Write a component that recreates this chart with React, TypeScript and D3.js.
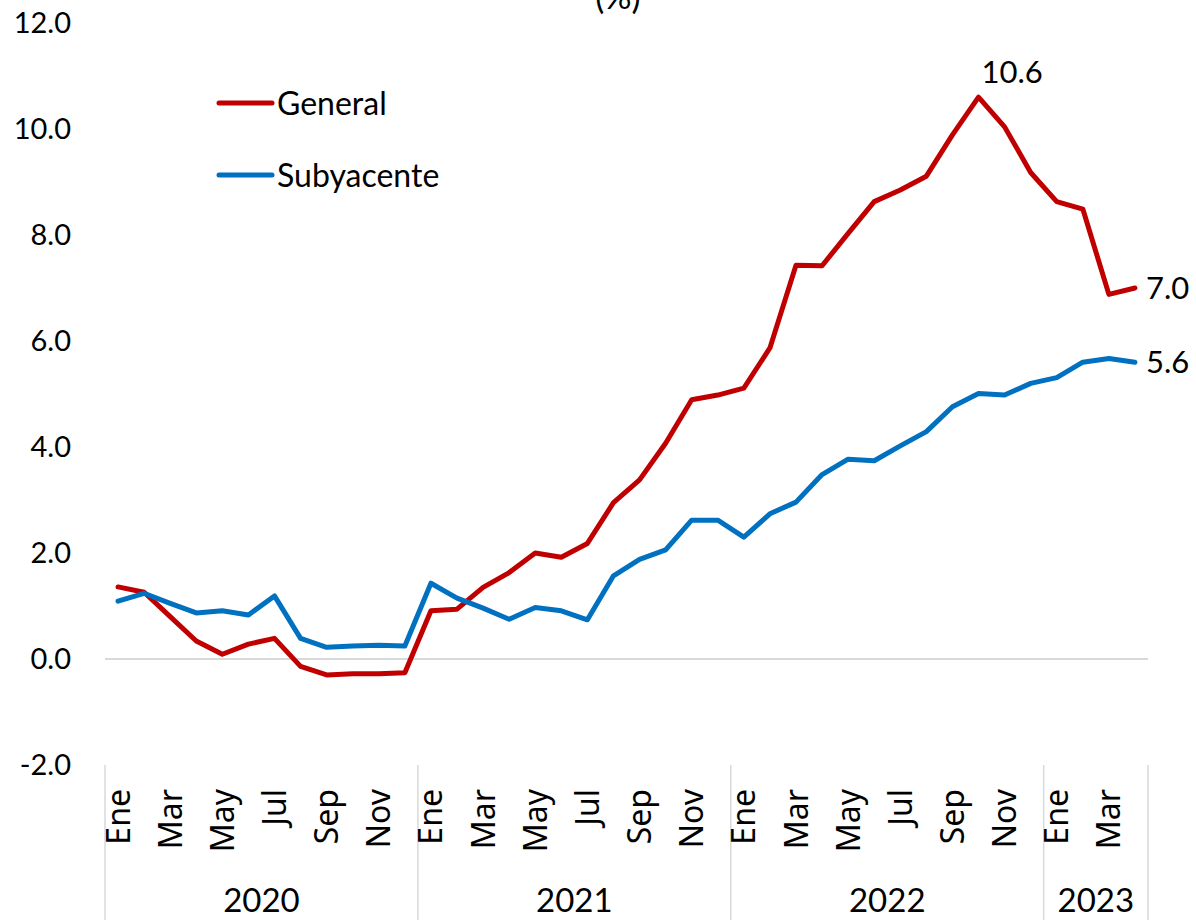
import React, { useRef, useEffect } from "react";
import * as d3 from "d3";

// Inflación anual, ene-2020 a abr-2023
const years = ["2020", "2021", "2022", "2023"];
const monthNames = ["Ene", "Feb", "Mar", "Abr", "May", "Jun", "Jul", "Ago", "Sep", "Oct", "Nov", "Dic"];
const monthsPerYear = [12, 12, 12, 4];

const general = [
  1.36, 1.26, 0.8, 0.34, 0.09, 0.28, 0.39, -0.14, -0.3, -0.28, -0.28, -0.26,
  0.91, 0.94, 1.35, 1.63, 2.0, 1.92, 2.18, 2.95, 3.38, 4.07, 4.89, 4.98,
  5.11, 5.87, 7.43, 7.42, 8.03, 8.63, 8.85, 9.11, 9.89, 10.6, 10.04, 9.18,
  8.63, 8.49, 6.88, 7.0,
];
const subyacente = [
  1.09, 1.24, 1.05, 0.87, 0.91, 0.83, 1.19, 0.39, 0.22, 0.245, 0.26, 0.245,
  1.43, 1.15, 0.96, 0.75, 0.97, 0.91, 0.74, 1.57, 1.88, 2.06, 2.62, 2.62,
  2.3, 2.74, 2.96, 3.48, 3.77, 3.74, 4.02, 4.29, 4.76, 5.01, 4.98, 5.2,
  5.31, 5.6, 5.67, 5.6,
];
const yTicks = [-2, 0, 2, 4, 6, 8, 10, 12];

const series = [
  { name: "General", values: general, color: "#C00000" },
  { name: "Subyacente", values: subyacente, color: "#0070C0" },
];

const numFont = "Lato, 'Open Sans', sans-serif";
const catFont = "'Noto Sans', 'Open Sans', sans-serif";
const fmt = (v: number) => v.toFixed(1); // plain hyphen for negatives

const App = () => {
  const svgRef = useRef<SVGSVGElement>(null);

  useEffect(() => {
    const svg = d3.select(svgRef.current);
    svg.selectAll("*").remove();

    const height = 920;
    const left = 105;
    const right = 1148;
    const top = 23;
    const bottom = 765;

    // build month labels from year/month lists
    const labels: string[] = [];
    monthsPerYear.forEach((n) => {
      for (let m = 0; m < n; m++) labels.push(monthNames[m]);
    });
    const idx = labels.map((_, i) => i);

    const x = d3.scaleBand<number>().domain(idx).range([left, right]).padding(0);
    const cx = (i: number) => (x(i) as number) + x.bandwidth() / 2;
    const y = d3.scaleLinear().domain([-2, 12]).range([bottom, top]);

    // title (mostly cut off at top, as in the source)
    svg
      .append("text")
      .attr("x", 618)
      .attr("y", 9)
      .attr("text-anchor", "middle")
      .attr("font-family", numFont)
      .attr("font-size", 34)
      .text("(%)");

    // zero line
    svg
      .append("line")
      .attr("x1", left)
      .attr("x2", right)
      .attr("y1", y(0))
      .attr("y2", y(0))
      .attr("stroke", "#d9d9d9")
      .attr("stroke-width", 2);

    // y labels
    svg
      .append("g")
      .selectAll("text")
      .data(yTicks)
      .enter()
      .append("text")
      .attr("x", 71)
      .attr("y", (d) => y(d))
      .attr("dy", "0.36em")
      .attr("text-anchor", "end")
      .attr("font-family", numFont)
      .attr("font-size", 29)
      .attr("fill", "#000")
      .text((d) => fmt(d));

    // year separators
    let start = 0;
    const bounds = [0];
    monthsPerYear.forEach((n) => {
      start += n;
      bounds.push(start);
    });
    bounds.forEach((b) => {
      const bx = b < labels.length ? (x(b) as number) : right;
      svg
        .append("line")
        .attr("x1", bx)
        .attr("x2", bx)
        .attr("y1", bottom)
        .attr("y2", height)
        .attr("stroke", "#d9d9d9")
        .attr("stroke-width", 1.5);
    });

    // year labels
    years.forEach((yr, k) => {
      const x0 = x(bounds[k]) as number;
      const x1 = bounds[k + 1] < labels.length ? (x(bounds[k + 1]) as number) : right;
      svg
        .append("text")
        .attr("x", (x0 + x1) / 2)
        .attr("y", 912)
        .attr("text-anchor", "middle")
        .attr("font-family", numFont)
        .attr("font-size", 33)
        .text(yr);
    });

    // month labels, every other month
    svg
      .append("g")
      .selectAll("text")
      .data(idx.filter((i) => i % 2 === 0))
      .enter()
      .append("text")
      .attr("transform", (i) => `translate(${cx(i)}, 789) rotate(-90)`)
      .attr("dy", "0.36em")
      .attr("text-anchor", "end")
      .attr("font-family", catFont)
      .attr("font-size", 32)
      .text((i) => labels[i]);

    // lines
    const line = d3
      .line<number>()
      .x((_, i) => cx(i))
      .y((d) => y(d));

    series.forEach((s) => {
      svg
        .append("path")
        .attr("d", line(s.values))
        .attr("fill", "none")
        .attr("stroke", s.color)
        .attr("stroke-width", 5)
        .attr("stroke-linejoin", "round")
        .attr("stroke-linecap", "round");
    });

    // legend
    series.forEach((s, k) => {
      const ly = 103 + k * 72;
      svg
        .append("line")
        .attr("x1", 219)
        .attr("x2", 272)
        .attr("y1", ly)
        .attr("y2", ly)
        .attr("stroke", s.color)
        .attr("stroke-width", 5)
        .attr("stroke-linecap", "round");
      svg
        .append("text")
        .attr("x", 277)
        .attr("y", ly)
        .attr("dy", "0.36em")
        .attr("font-family", numFont)
        .attr("font-size", 32)
        .text(s.name);
    });

    // data labels: peak and last values
    const peak = d3.maxIndex(general);
    svg
      .append("text")
      .attr("x", cx(peak) + 3)
      .attr("y", y(general[peak]) - 14)
      .attr("font-family", numFont)
      .attr("font-size", 31)
      .text(fmt(general[peak]));

    const last = general.length - 1;
    series.forEach((s) => {
      svg
        .append("text")
        .attr("x", cx(last) + 11)
        .attr("y", y(s.values[last]))
        .attr("dy", "0.36em")
        .attr("font-family", numFont)
        .attr("font-size", 31)
        .text(fmt(s.values[last]));
    });
  }, []);

  return (
    <svg
      ref={svgRef}
      width="1196"
      height="920"
      style={{ position: "absolute", left: 0, top: 0, background: "#fff" }}
    />
  );
};

export default App;
